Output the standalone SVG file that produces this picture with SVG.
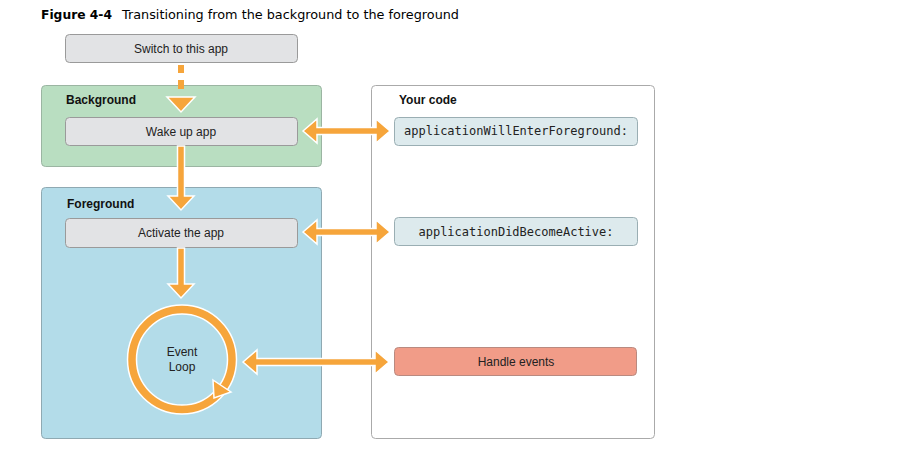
<svg xmlns="http://www.w3.org/2000/svg" width="901" height="467" viewBox="0 0 901 467">
<style>
.title{font-family:"DejaVu Sans","Liberation Sans",sans-serif;font-size:12.5px;fill:#000}
.lbl{font-family:"Liberation Sans",Arial,sans-serif;font-size:12px;fill:#222;text-anchor:middle}
.hdr{font-family:"Liberation Sans",Arial,sans-serif;font-size:12px;font-weight:bold;fill:#111}
.mono{font-family:"DejaVu Sans Mono","Liberation Mono",monospace;font-size:12px;fill:#222;text-anchor:middle}
.gbox{fill:#e2e3e5;stroke:#9a9a9a;stroke-width:1}
.cbox{fill:#ddeaed;stroke:#9aaeb3;stroke-width:1}
.arr{fill:#f6a53b;stroke:#fff;stroke-width:1.5;stroke-linejoin:miter}
</style>
<rect width="901" height="467" fill="#fff"/>
<text class="title" x="41" y="19" font-weight="bold" textLength="71" lengthAdjust="spacingAndGlyphs">Figure 4-4</text>
<text class="title" x="122" y="19" textLength="337" lengthAdjust="spacingAndGlyphs">Transitioning from the background to the foreground</text>

<g id="background-panel">
<rect x="41.5" y="85.5" width="280" height="81" rx="4" fill="#b9dec1" stroke="#9bb5a2"/>
<text class="hdr" x="66" y="104">Background</text>
</g>
<g id="foreground-panel">
<rect x="41.5" y="187.5" width="280" height="251" rx="4" fill="#b3dce9" stroke="#8fa9b2"/>
<text class="hdr" x="67" y="208">Foreground</text>
</g>
<g id="your-code-panel">
<rect x="371.5" y="85.5" width="283" height="353" rx="4" fill="#fff" stroke="#aaa"/>
<text class="hdr" x="399" y="104">Your code</text>
</g>

<g id="switch">
<rect class="gbox" x="65.5" y="34.5" width="232" height="28" rx="4"/>
<text class="lbl" x="181" y="53">Switch to this app</text>
</g>
<g id="wake">
<rect class="gbox" x="65.5" y="117.5" width="232" height="28" rx="4"/>
<text class="lbl" x="181" y="136">Wake up app</text>
</g>
<g id="activate">
<rect class="gbox" x="65.5" y="218.5" width="232" height="29" rx="4"/>
<text class="lbl" x="181" y="237">Activate the app</text>
</g>
<g id="willEnter">
<rect class="cbox" x="394.5" y="117.5" width="243" height="28" rx="4"/>
<text class="mono" x="516" y="135">applicationWillEnterForeground:</text>
</g>
<g id="didBecome">
<rect class="cbox" x="394.5" y="217.5" width="243" height="28" rx="4"/>
<text class="mono" x="516" y="236">applicationDidBecomeActive:</text>
</g>
<g id="handle">
<rect x="394.5" y="347.5" width="242" height="28" rx="4" fill="#f19c88" stroke="#b98a80"/>
<text class="lbl" x="516" y="366">Handle events</text>
</g>
<g id="event-loop">
<circle cx="182" cy="359.5" r="50" fill="none" stroke="#fff" stroke-width="10.5"/>
<circle cx="182" cy="359.5" r="50" fill="none" stroke="#f6a53b" stroke-width="7.5"/>
<polygon class="arr" points="213,380 231,392 214,398"/>
<text class="lbl" x="182" y="356">Event</text>
<text class="lbl" x="182" y="371">Loop</text>
</g>

<g id="connectors">
<rect x="178" y="65" width="6" height="8" fill="#f6a53b"/>
<rect x="178" y="80" width="6" height="9" fill="#f6a53b"/>
<polygon class="arr" points="167,97 195,97 181,112"/>
<polygon class="arr" points="177.5,146 184.5,146 184.5,196 194,196 181,210 168,196 177.5,196"/>
<polygon class="arr" points="177.5,248 184.5,248 184.5,284 194,284 181,298 168,284 177.5,284"/>
<polygon class="arr" points="303,131 317,119 317,127.5 376,127.5 376,119 390,131 376,143 376,134.5 317,134.5 317,143"/>
<polygon class="arr" points="303,232 317,220 317,228.5 376,228.5 376,220 390,232 376,244 376,235.5 317,235.5 317,244"/>
<polygon class="arr" points="243,362 257,350 257,358.5 375,358.5 375,350 389,362 375,374 375,365.5 257,365.5 257,374"/>
</g>
</svg>
